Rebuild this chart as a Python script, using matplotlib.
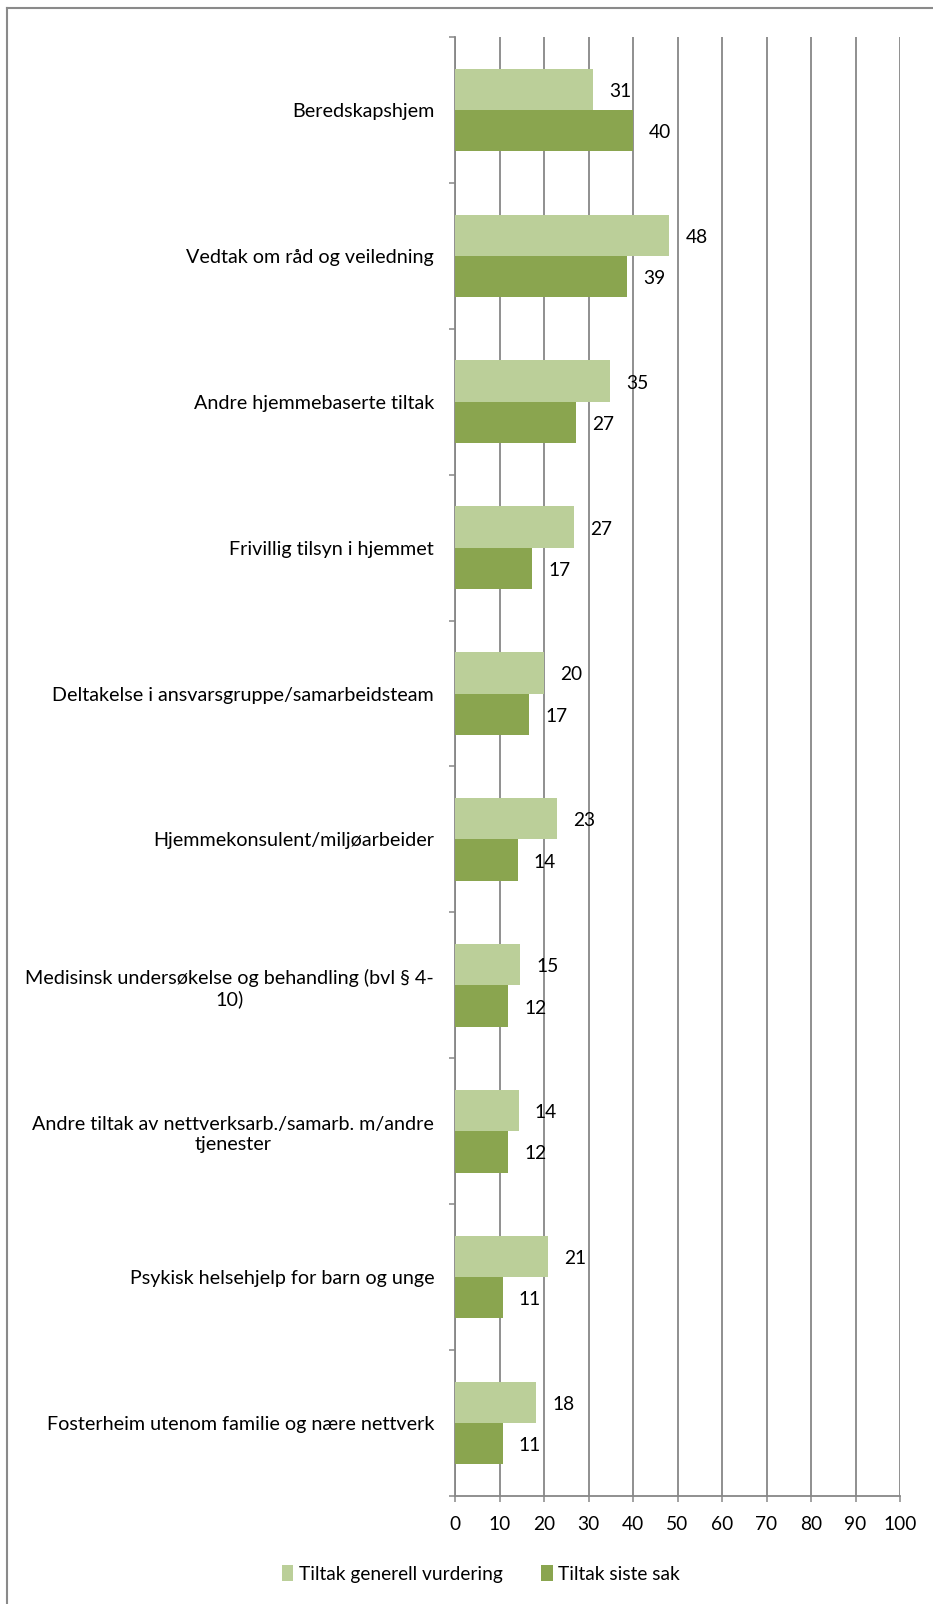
import matplotlib
matplotlib.use("Agg")
import matplotlib.pyplot as plt
from matplotlib.patches import Patch
from matplotlib.lines import Line2D
import numpy as np

categories = [
    "Beredskapshjem",
    "Vedtak om råd og veiledning",
    "Andre hjemmebaserte tiltak",
    "Frivillig tilsyn i hjemmet",
    "Deltakelse i ansvarsgruppe/samarbeidsteam",
    "Hjemmekonsulent/miljøarbeider",
    "Medisinsk undersøkelse og behandling (bvl § 4-\n10)",
    "Andre tiltak av nettverksarb./samarb. m/andre\ntjenester",
    "Psykisk helsehjelp for barn og unge",
    "Fosterheim utenom familie og nære nettverk",
]
generell = [31.0, 48.2, 34.8, 26.8, 20.1, 22.9, 14.7, 14.3, 21.0, 18.2]
siste = [40.0, 38.7, 27.3, 17.4, 16.7, 14.1, 12.0, 12.0, 10.7, 10.7]
series_names = ["Tiltak generell vurdering", "Tiltak siste sak"]
xticks = [0, 10, 20, 30, 40, 50, 60, 70, 80, 90, 100]

FONT = ["Lato", "DejaVu Sans"]
plt.rcParams["font.family"] = FONT

LIGHT = "#BBCF99"
DARK = "#8AA54F"
GRID = "#878787"

W, H = 933, 1604
fig = plt.figure(figsize=(W / 100, H / 100), dpi=100)

# outer frame (left and top visible)
fig.add_artist(Line2D([7 / W, 7 / W], [0, 1 - 8 / H], transform=fig.transFigure, color="#8a8a8a", lw=1.5))
fig.add_artist(Line2D([7 / W, 1], [1 - 8 / H, 1 - 8 / H], transform=fig.transFigure, color="#8a8a8a", lw=1.5))

left, right, top, bottom = 455, 900, 37, 1496
ax = fig.add_axes([left / W, 1 - bottom / H, (right - left) / W, (bottom - top) / H])

n = len(categories)
y = np.arange(n)
h = 0.283
ax.barh(y - h / 2, generell, height=h, color=LIGHT, zorder=3)
ax.barh(y + h / 2, siste, height=h, color=DARK, zorder=3)

for yi, g, s in zip(y, generell, siste):
    ax.annotate(f"{round(g)}", (g, yi - h / 2), xytext=(11.5, -1.5), textcoords="offset points",
                ha="left", va="center", fontsize=13.8, color="black", zorder=4)
    ax.annotate(f"{round(s)}", (s, yi + h / 2), xytext=(11.5, -1.5), textcoords="offset points",
                ha="left", va="center", fontsize=13.8, color="black", zorder=4)

ax.set_xlim(0, 100)
ax.set_ylim(n - 0.5, -0.5)
ax.set_xticks(xticks)
ax.set_xticklabels([str(t) for t in xticks], fontsize=13.8)
ax.set_yticks(y)
ax.set_yticklabels(categories, fontsize=14.2, multialignment="center", linespacing=1.25)
ax.set_yticks(np.arange(n + 1) - 0.5, minor=True)

ax.tick_params(axis="y", which="major", length=0, pad=15)
ax.tick_params(axis="y", which="minor", length=4.5, width=1.1, color=GRID, direction="out")
ax.tick_params(axis="x", which="major", length=4, width=1.1, color=GRID, direction="out", pad=10.5)

ax.xaxis.grid(True, color=GRID, lw=1.3, zorder=0)
ax.set_axisbelow(True)
for sp in ["top", "right"]:
    ax.spines[sp].set_visible(False)
for sp in ["left", "bottom"]:
    ax.spines[sp].set_color(GRID)
    ax.spines[sp].set_linewidth(1.3)

handles = [Patch(facecolor=LIGHT, edgecolor="none"), Patch(facecolor=DARK, edgecolor="none")]
fig.legend(handles, series_names, loc="center", bbox_to_anchor=(481 / W, 1 - 1574 / H),
           ncol=2, frameon=False, fontsize=13.8, handlelength=0.6, handleheight=0.9,
           handletextpad=0.3, columnspacing=2.0)

fig.savefig("out.png", dpi=100)
